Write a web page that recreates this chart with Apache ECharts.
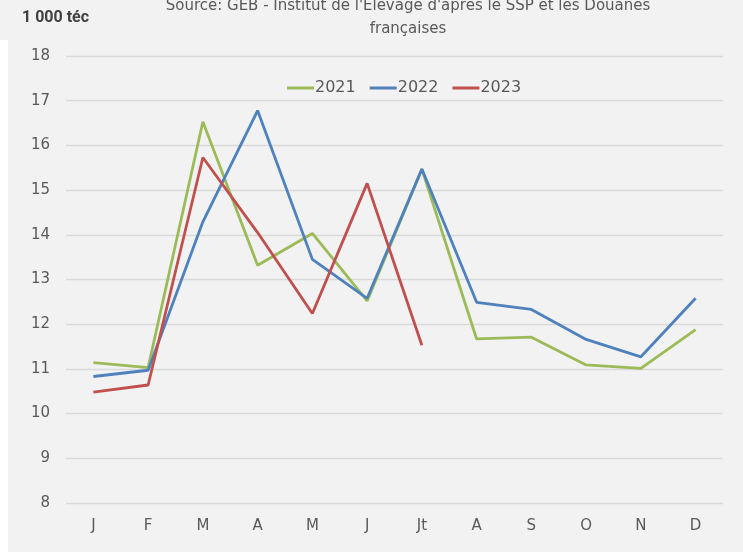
<!DOCTYPE html>
<html>
<head>
<meta charset="utf-8">
<script src="https://cdn.jsdelivr.net/npm/echarts@6/dist/echarts.min.js"></script>
<style>
  html, body { margin: 0; padding: 0; background: #ffffff; }
  #chart { width: 743px; height: 557px; }
</style>
</head>
<body>
<div id="chart"></div>
<script>
// mois
const months = ['J', 'F', 'M', 'A', 'M', 'J', 'Jt', 'A', 'S', 'O', 'N', 'D']
// 1 000 téc
const data2021 = [11.14, 11.03, 16.53, 13.32, 14.03, 12.52, 15.47, 11.67, 11.71, 11.09, 11.01, 11.88]
const data2022 = [10.83, 10.97, 14.29, 16.78, 13.45, 12.58, 15.47, 12.49, 12.33, 11.66, 11.27, 12.58]
const data2023 = [10.48, 10.64, 15.73, 14.05, 12.24, 15.15, 11.53]
const yTicks = [8, 9, 10, 11, 12, 13, 14, 15, 16, 17, 18]

const font = 'DejaVu Sans'
const grey = '#595959'

const chart = echarts.init(document.getElementById('chart'))

function lineSerie(name, data, color) {
  return {
    name: name,
    type: 'line',
    data: data,
    symbol: 'none',
    lineStyle: { color: color, width: 2.8 },
    itemStyle: { color: color },
    animation: false
  }
}

chart.setOption({
  backgroundColor: '#f2f2f2',
  textStyle: { fontFamily: font },
  title: [{
    text: "Source: GEB - Institut de l'Elevage d'après le SSP et les Douanes\nfrançaises",
    left: 403,
    top: -10,
    textAlign: 'center',
    textStyle: { color: grey, fontSize: 15, fontWeight: 'normal', lineHeight: 23, fontFamily: font }
  }, {
    text: '1 000 téc',
    left: 17,
    top: 5,
    textStyle: { color: '#404040', fontSize: 16, fontWeight: 'bold', fontFamily: 'Roboto' }
  }],
  legend: {
    left: 282,
    top: 75,
    itemWidth: 27,
    itemHeight: 3,
    itemGap: 14,
    icon: 'rect',
    textStyle: { color: grey, fontSize: 16, fontFamily: font, padding: [0, 0, 0, -4] },
    data: ['2021', '2022', '2023']
  },
  grid: {
    left: 66,
    right: 20,
    top: 56,
    bottom: 54,
    containLabel: false
  },
  xAxis: {
    type: 'category',
    data: months,
    boundaryGap: true,
    axisLine: { show: false },
    axisTick: { show: false },
    axisLabel: { color: grey, fontSize: 15, margin: 16, fontFamily: font }
  },
  yAxis: {
    type: 'value',
    min: yTicks[0],
    max: yTicks[yTicks.length - 1],
    interval: 1,
    axisLine: { show: false },
    axisTick: { show: false },
    axisLabel: { color: grey, fontSize: 15, margin: 16, fontFamily: font },
    splitLine: { lineStyle: { color: '#d9d9d9', width: 1.3 } }
  },
  graphic: [
    { type: 'rect', shape: { x: 0, y: 40, width: 8, height: 517 }, style: { fill: '#ffffff' }, silent: true },
    { type: 'rect', shape: { x: 0, y: 552, width: 743, height: 5 }, style: { fill: '#ffffff' }, silent: true }
  ],
  series: [
    lineSerie('2021', data2021, '#9bbb59'),
    lineSerie('2022', data2022, '#4f81bd'),
    lineSerie('2023', data2023, '#c0504d')
  ]
})
</script>
</body>
</html>
